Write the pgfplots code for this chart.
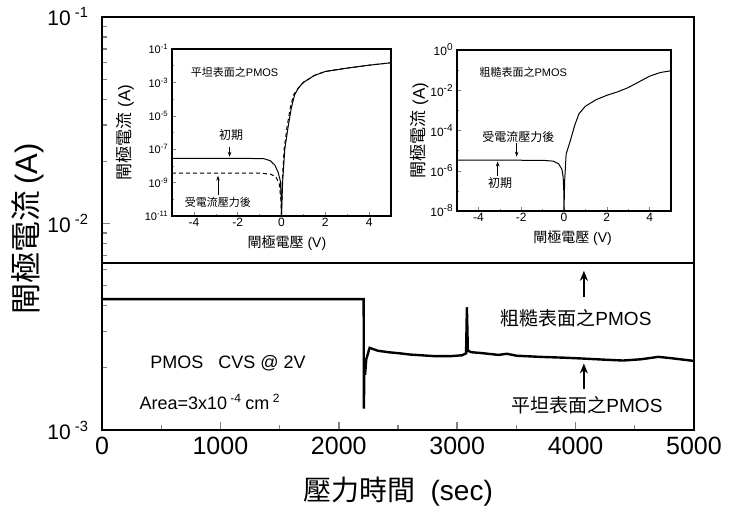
\documentclass[border=0pt]{standalone}
\usepackage{fontspec}
\setmainfont{Liberation Sans}
\newfontfamily\cjk{Noto Sans CJK TC}
\usepackage{pgfplots}
\pgfplotsset{compat=1.18}
\usetikzlibrary{arrows.meta}

% main trace: gate current under constant voltage stress
\pgfplotstableread{
t        I
0        4.30e-3
2210     4.30e-3
2212     1.27e-3
2216     2.05e-3
2222     1.85e-3
2232     2.20e-3
2260     2.50e-3
2330     2.42e-3
2420     2.38e-3
2520     2.35e-3
2600     2.32e-3
2700     2.30e-3
2800     2.28e-3
2950     2.28e-3
3040     2.30e-3
3075     2.35e-3
3082     3.93e-3
3090     2.42e-3
3120     2.38e-3
3200     2.36e-3
3350     2.31e-3
3420     2.34e-3
3500     2.29e-3
3700     2.26e-3
3900     2.24e-3
4050     2.22e-3
4250     2.19e-3
4400     2.17e-3
4550     2.20e-3
4700     2.26e-3
4800     2.23e-3
5000     2.16e-3
}\flattrace

\pgfplotstableread{
V      I
-5     2.8e-8
-1.5   2.8e-8
-0.8   2.7e-8
-0.5   2.0e-8
-0.3   1.1e-8
-0.15  4e-9
-0.05  1.2e-9
-0.01  1e-10
0      1e-11
0.05   1e-9
0.15   1e-7
0.3    2.1e-6
0.45   3e-5
0.6    1.8e-4
0.77   4.6e-4
1.0    1.0e-3
1.5    2.6e-3
2      4.5e-3
3      7.2e-3
4      1.07e-2
5      1.5e-2
}\flatinit

\pgfplotstableread{
V      I
-5     3.7e-9
-1     3.7e-9
-0.5   3.2e-9
-0.25  2.2e-9
-0.1   8e-10
-0.03  1e-10
0      1e-11
0.03   1e-9
0.12   1e-7
0.25   2e-6
0.4    3e-5
0.55   1.8e-4
0.77   4.6e-4
1.0    1.0e-3
1.5    2.6e-3
2      4.5e-3
3      7.2e-3
4      1.07e-2
5      1.5e-2
}\flatstress

\pgfplotstableread{
V      I
-5     3.4e-6
-1     3.3e-6
-0.5   3.0e-6
-0.25  2.2e-6
-0.1   1.2e-6
-0.04  5e-7
-0.01  1e-7
0      1e-8
0.03   3e-7
0.1    6.8e-6
0.3    3.2e-5
0.5    1.8e-4
0.7    6.8e-4
1.0    1.6e-3
1.5    3.4e-3
2      5.6e-3
2.5    8.3e-3
3      1.35e-2
3.5    2.6e-2
4      5.0e-2
4.5    7.6e-2
5      9.3e-2
}\roughiv

\begin{document}
\begin{tikzpicture}
\path[use as bounding box] (-51pt,-44.5pt) rectangle (313.5pt,215pt);

\begin{axis}[
  at={(0,0)}, anchor=south west,
  scale only axis, width=296pt, height=206.5pt,
  xmin=0, xmax=5000,
  ymode=log, ymin=1e-3, ymax=1e-1,
  xtick={0,1000,...,5000}, minor x tick num=1,
  ytick={1e-3,1e-2,1e-1},
  yticklabels={10\textsuperscript{ -3},10\textsuperscript{ -2},10\textsuperscript{ -1}},
  tick pos=left, tick align=inside,
  axis line style={line width=1pt},
  major tick style={line width=0.8pt}, minor tick style={line width=0.6pt},
  major tick length=4pt, minor tick length=2.5pt,
  xticklabel style={font=\fontsize{12.5}{14}\selectfont},
  yticklabel style={font=\fontsize{10.5}{12}\selectfont, xshift=-3pt},
  /pgf/number format/assume math mode=true,
  /pgf/number format/set thousands separator={},
  xlabel={{\cjk 壓力時間}\ \ (sec)},
  ylabel={{\cjk 閘極電流}\,(A)},
  xlabel style={at={(axis description cs:0.5,-0.15)}, anchor=center, font=\fontsize{14}{16}\selectfont},
  ylabel style={at={(axis description cs:-0.125,0.487)}, anchor=center, font=\fontsize{15.5}{17}\selectfont},
]
\addplot[black, line width=1.3pt] coordinates {(0,6.44e-3) (5000,6.44e-3)};
\addplot[black, line width=1.2pt] table[x=t, y=I] {\flattrace};

\draw[line width=1.1pt, -{Stealth[length=5pt,width=4pt]}] (4070,4.4e-3) -- (4070,5.9e-3);
\draw[line width=1.1pt, -{Stealth[length=5pt,width=4pt]}] (4070,1.58e-3) -- (4070,2.1e-3);
\node[font=\fontsize{9.5}{11}\selectfont] at (4003,3.48e-3) {{\cjk 粗糙表面之}PMOS};
\node[font=\fontsize{9.5}{11}\selectfont] at (4096,1.32e-3) {{\cjk 平坦表面之}PMOS};
\node[font=\fontsize{9}{11}\selectfont] at (1064,2.11e-3) {PMOS\ \ \ CVS @ 2V};
\node[font=\fontsize{9}{11}\selectfont] at (912,1.37e-3) {Area=3x10\textsuperscript{ -4 }cm\textsuperscript{ 2}};
\end{axis}

% inset: flat surface PMOS
\begin{axis}[
  at={(35pt,107pt)}, anchor=south west,
  scale only axis, width=109.5pt, height=83.5pt,
  xmin=-5, xmax=5,
  ymode=log, ymin=1e-11, ymax=1e-1,
  xtick={-4,-2,0,2,4}, minor xtick={-3,-1,1,3},
  ytick={1e-11,1e-9,1e-7,1e-5,1e-3,1e-1},
  yticklabels={10\textsuperscript{-11},10\textsuperscript{-9},10\textsuperscript{-7},10\textsuperscript{-5},10\textsuperscript{-3},10\textsuperscript{-1}},
  minor ytick={1e-10,1e-8,1e-6,1e-4,1e-2},
  tick pos=left, tick align=inside,
  axis line style={line width=0.6pt},
  major tick length=2pt, minor tick length=1.2pt,
  xticklabel style={font=\fontsize{6}{7}\selectfont, inner sep=1pt},
  yticklabel style={font=\fontsize{5.5}{6}\selectfont, inner sep=1.5pt},
  /pgf/number format/assume math mode=true,
  xlabel={{\cjk 閘極電壓}\ (V)},
  ylabel={{\cjk 閘極電流}\ (A)},
  xlabel style={at={(axis description cs:0.525,-0.16)}, anchor=center, font=\fontsize{7}{8}\selectfont},
  ylabel style={at={(axis description cs:-0.215,0.5)}, anchor=center, font=\fontsize{8.5}{9}\selectfont},
]
\addplot[black, line width=0.5pt] table[x=V, y=I] {\flatinit};
\addplot[black, line width=0.5pt, dash pattern=on 2pt off 1.5pt] table[x=V, y=I] {\flatstress};
\node[font=\fontsize{5.5}{6}\selectfont] at (-2.14,3.9e-3) {{\cjk 平坦表面之}PMOS};
\node[font=\fontsize{6}{7}\selectfont] at (-2.3,6.9e-7) {\cjk 初期};
\draw[line width=0.4pt, -{Stealth[length=2.5pt,width=1.8pt]}] (-2.37,1.4e-7) -- (-2.37,3.5e-8);
\node[font=\fontsize{5.5}{6}\selectfont] at (-2.9,6.8e-11) {\cjk 受電流壓力後};
\draw[line width=0.4pt, -{Stealth[length=2.5pt,width=1.8pt]}] (-2.9,1.9e-10) -- (-2.9,2.6e-9);
\end{axis}

% inset: rough surface PMOS
\begin{axis}[
  at={(177.5pt,109.5pt)}, anchor=south west,
  scale only axis, width=107pt, height=80.5pt,
  xmin=-5, xmax=5,
  ymode=log, ymin=1e-8, ymax=1,
  xtick={-4,-2,0,2,4}, minor xtick={-3,-1,1,3},
  ytick={1e-8,1e-6,1e-4,1e-2,1},
  yticklabels={10\textsuperscript{-8},10\textsuperscript{-6},10\textsuperscript{-4},10\textsuperscript{-2},10\textsuperscript{0}},
  minor ytick={1e-7,1e-5,1e-3,1e-1},
  tick pos=left, tick align=inside,
  axis line style={line width=0.6pt},
  major tick length=2pt, minor tick length=1.2pt,
  xticklabel style={font=\fontsize{6}{7}\selectfont, inner sep=1pt},
  yticklabel style={font=\fontsize{6}{7}\selectfont, inner sep=1.5pt},
  /pgf/number format/assume math mode=true,
  xlabel={{\cjk 閘極電壓}\ (V)},
  ylabel={{\cjk 閘極電流}\ (A)},
  xlabel style={at={(axis description cs:0.54,-0.17)}, anchor=center, font=\fontsize{7}{8}\selectfont},
  ylabel style={at={(axis description cs:-0.175,0.5)}, anchor=center, font=\fontsize{8.5}{9}\selectfont},
]
\addplot[black, line width=0.5pt] table[x=V, y=I] {\roughiv};
\node[font=\fontsize{5.5}{6}\selectfont] at (-1.9,7.4e-2) {{\cjk 粗糙表面之}PMOS};
\node[font=\fontsize{6}{7}\selectfont] at (-2.13,5e-5) {\cjk 受電流壓力後};
\draw[line width=0.4pt, -{Stealth[length=2.5pt,width=1.8pt]}] (-2.21,2.3e-5) -- (-2.21,5e-6);
\node[font=\fontsize{6}{7}\selectfont] at (-2.98,2.6e-7) {\cjk 初期};
\draw[line width=0.4pt, -{Stealth[length=2.5pt,width=1.8pt]}] (-3.1,5.6e-7) -- (-3.1,2.9e-6);
\end{axis}
\end{tikzpicture}
\end{document}
